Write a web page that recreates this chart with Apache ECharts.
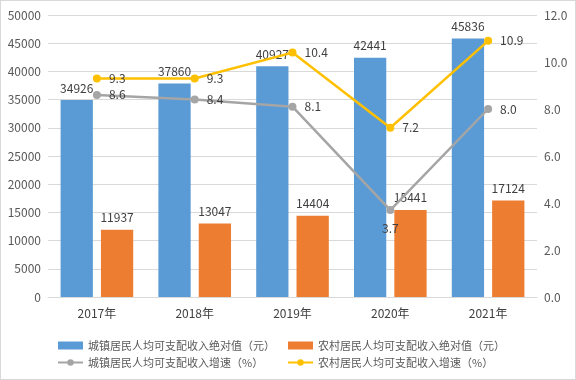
<!DOCTYPE html>
<html><head><meta charset="utf-8">
<script src="https://cdn.jsdelivr.net/npm/echarts@6/dist/echarts.min.js"></script>
<style>html,body{margin:0;padding:0;background:#fff}#c{width:574px;height:378px;border:1px solid #d9d9d9}</style>
</head><body><div id="c"></div>
<script>
var categories = ['2017年','2018年','2019年','2020年','2021年'];
var urbanIncome = [34926, 37860, 40927, 42441, 45836];
var ruralIncome = [11937, 13047, 14404, 15441, 17124];
var urbanGrowth = [8.6, 8.4, 8.1, 3.7, 8.0];
var ruralGrowth = [9.3, 9.3, 10.4, 7.2, 10.9];
var names = ['城镇居民人均可支配收入绝对值（元）','农村居民人均可支配收入绝对值（元）','城镇居民人均可支配收入增速（%）','农村居民人均可支配收入增速（%）'];
var font = '"Noto Sans CJK SC","Noto Sans",sans-serif';
var chart = echarts.init(document.getElementById('c'));
var lbl = {show:true, color:'#404040', fontSize:12, fontFamily:font};
chart.setOption({
  animation:false,
  textStyle:{fontFamily:font},
  grid:{left:47, right:38, top:14, bottom:82},
  legend:[
    {left:51, top:334, orient:'vertical', itemGap:6, itemWidth:25, itemHeight:8,
     textStyle:{color:'#595959', fontSize:11, fontFamily:font},
     data:[{name:names[0], icon:'rect'},{name:names[2]}]},
    {left:281, top:334, orient:'vertical', itemGap:6, itemWidth:25, itemHeight:8,
     textStyle:{color:'#595959', fontSize:11, fontFamily:font},
     data:[{name:names[1], icon:'rect'},{name:names[3]}]}
  ],
  xAxis:{type:'category', data:categories,
    axisLine:{lineStyle:{color:'#d9d9d9'}}, axisTick:{show:false},
    axisLabel:{color:'#404040', fontSize:12, margin:10, fontFamily:font}},
  yAxis:[
    {type:'value', min:0, max:50000, interval:5000,
     axisLabel:{color:'#595959', fontSize:12, margin:7, fontFamily:font, formatter:function(v){return String(v);}},
     splitLine:{lineStyle:{color:'#d9d9d9'}}, axisLine:{show:false}, axisTick:{show:false}},
    {type:'value', min:0, max:12, interval:2,
     axisLabel:{color:'#595959', fontSize:12, margin:7, fontFamily:font, formatter:function(v){return v.toFixed(1);}},
     splitLine:{show:false}, axisLine:{show:false}, axisTick:{show:false}}
  ],
  series:[
    {name:names[0], type:'bar', data:urbanIncome, barWidth:'33%', barGap:'25%',
     itemStyle:{color:'#5B9BD5'}, label:Object.assign({position:'top', distance:6, formatter:function(p){return String(p.value);}}, lbl)},
    {name:names[1], type:'bar', data:ruralIncome, barWidth:'33%', barGap:'25%',
     itemStyle:{color:'#ED7D31'}, label:Object.assign({position:'top', distance:6, formatter:function(p){return String(p.value);}}, lbl)},
    {name:names[2], type:'line', yAxisIndex:1, symbol:'circle', symbolSize:8,
     data:urbanGrowth.map(function(v,i){return i===3?{value:v,label:{position:'bottom'}}:v;}),
     itemStyle:{color:'#A5A5A5'}, lineStyle:{color:'#A5A5A5', width:2.5},
     label:Object.assign({position:'right', distance:8, formatter:function(p){return p.value.toFixed(1);}}, lbl)},
    {name:names[3], type:'line', yAxisIndex:1, symbol:'circle', symbolSize:8,
     data:ruralGrowth,
     itemStyle:{color:'#FFC000'}, lineStyle:{color:'#FFC000', width:2.5},
     label:Object.assign({position:'right', distance:8, formatter:function(p){return p.value.toFixed(1);}}, lbl)}
  ]
});
</script></body></html>
